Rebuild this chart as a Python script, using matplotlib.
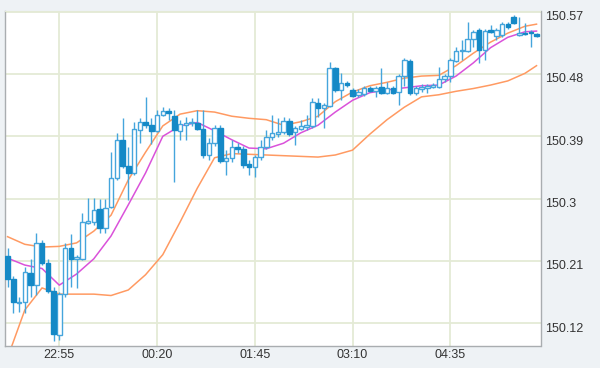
import numpy as np
import matplotlib
matplotlib.use("Agg")
import matplotlib.pyplot as plt
import matplotlib.transforms as mtransforms

# 5-minute candles (open, high, low, close)
opens = [150.217, 150.184, 150.149, 150.150, 150.192, 150.175, 150.236, 150.207, 150.167, 150.103,
         150.162, 150.229, 150.213, 150.213, 150.265, 150.266, 150.285, 150.258, 150.288, 150.330,
         150.385, 150.347, 150.337, 150.399, 150.411, 150.406, 150.398, 150.421, 150.427, 150.419,
         150.398, 150.406, 150.409, 150.409, 150.401, 150.363, 150.380, 150.402, 150.354, 150.359,
         150.375, 150.372, 150.350, 150.346, 150.360, 150.375, 150.389, 150.393, 150.396, 150.412,
         150.396, 150.401, 150.403, 150.405, 150.438, 150.431, 150.434, 150.489, 150.457, 150.467,
         150.457, 150.450, 150.451, 150.460, 150.455, 150.461, 150.453, 150.460, 150.454, 150.477,
         150.499, 150.453, 150.458, 150.460, 150.461, 150.461, 150.473, 150.477, 150.499, 150.513,
         150.513, 150.531, 150.544, 150.515, 150.544, 150.535, 150.536, 150.552, 150.562, 150.536,
         150.539, 150.541, 150.538]
highs = [150.229, 150.188, 150.158, 150.201, 150.213, 150.250, 150.240, 150.213, 150.172, 150.165,
         150.236, 150.249, 150.219, 150.279, 150.301, 150.301, 150.299, 150.299, 150.367, 150.395,
         150.416, 150.375, 150.411, 150.416, 150.447, 150.416, 150.428, 150.432, 150.431, 150.428,
         150.414, 150.418, 150.416, 150.428, 150.428, 150.388, 150.406, 150.406, 150.370, 150.385,
         150.380, 150.376, 150.356, 150.363, 150.385, 150.399, 150.421, 150.416, 150.418, 150.416,
         150.405, 150.414, 150.421, 150.445, 150.445, 150.438, 150.497, 150.490, 150.481, 150.470,
         150.460, 150.458, 150.463, 150.463, 150.463, 150.489, 150.468, 150.463, 150.480, 150.503,
         150.502, 150.463, 150.466, 150.466, 150.467, 150.490, 150.480, 150.503, 150.519, 150.529,
         150.555, 150.544, 150.546, 150.545, 150.551, 150.546, 150.555, 150.555, 150.565, 150.562,
         150.554, 150.544, 150.539]
lows = [150.172, 150.135, 150.136, 150.135, 150.158, 150.161, 150.204, 150.164, 150.094, 150.096,
        150.158, 150.172, 150.171, 150.211, 150.263, 150.262, 150.250, 150.250, 150.286, 150.327,
        150.344, 150.298, 150.334, 150.380, 150.402, 150.379, 150.396, 150.419, 150.414, 150.324,
        150.385, 150.385, 150.405, 150.399, 150.359, 150.356, 150.376, 150.351, 150.334, 150.353,
        150.366, 150.344, 150.334, 150.331, 150.356, 150.372, 150.385, 150.389, 150.393, 150.390,
        150.377, 150.399, 150.399, 150.402, 150.418, 150.402, 150.432, 150.454, 150.442, 150.461,
        150.447, 150.447, 150.448, 150.454, 150.447, 150.451, 150.451, 150.451, 150.435, 150.463,
        150.450, 150.450, 150.454, 150.453, 150.460, 150.460, 150.468, 150.468, 150.497, 150.500,
        150.512, 150.519, 150.496, 150.500, 150.539, 150.529, 150.533, 150.545, 150.552, 150.535,
        150.536, 150.519, 150.533]
closes = [150.184, 150.151, 150.151, 150.194, 150.175, 150.236, 150.207, 150.167, 150.104, 150.162,
          150.229, 150.213, 150.215, 150.266, 150.268, 150.284, 150.258, 150.286, 150.330, 150.385,
          150.347, 150.337, 150.401, 150.411, 150.406, 150.398, 150.421, 150.427, 150.424, 150.399,
          150.408, 150.409, 150.411, 150.401, 150.363, 150.380, 150.402, 150.354, 150.359, 150.375,
          150.372, 150.349, 150.346, 150.360, 150.375, 150.389, 150.395, 150.396, 150.412, 150.393,
          150.402, 150.405, 150.406, 150.440, 150.431, 150.435, 150.489, 150.457, 150.467, 150.464,
          150.448, 150.454, 150.460, 150.456, 150.460, 150.453, 150.460, 150.453, 150.477, 150.500,
          150.453, 150.460, 150.461, 150.463, 150.464, 150.473, 150.477, 150.500, 150.513, 150.515,
          150.531, 150.541, 150.515, 150.542, 150.541, 150.544, 150.552, 150.548, 150.554, 150.539,
          150.538, 150.539, 150.535]

# indicator lines, sampled every few candles
line_idx = [0, 3, 6, 9, 12, 15, 18, 21, 24, 27, 30, 33, 36, 39, 42, 45,
            48, 51, 54, 57, 60, 63, 66, 69, 72, 75, 78, 81, 84, 87, 90, 92]
upper_band = [150.245, 150.234, 150.230, 150.231, 150.236, 150.253, 150.276, 150.327,
              150.367, 150.405, 150.422, 150.427, 150.425, 150.419, 150.416, 150.414,
              150.406, 150.411, 150.419, 150.440, 150.454, 150.463, 150.468, 150.474,
              150.477, 150.478, 150.492, 150.510, 150.526, 150.539, 150.549, 150.552]
fast_ma = [150.214, 150.204, 150.199, 150.175, 150.191, 150.213, 150.246, 150.291,
           150.337, 150.390, 150.405, 150.410, 150.398, 150.385, 150.373, 150.372,
           150.380, 150.395, 150.406, 150.425, 150.442, 150.453, 150.457, 150.460,
           150.463, 150.464, 150.477, 150.496, 150.518, 150.533, 150.541, 150.542]
lower_band = [150.070, 150.139, 150.171, 150.162, 150.162, 150.162, 150.160, 150.168,
              150.190, 150.219, 150.266, 150.315, 150.359, 150.365, 150.364, 150.363,
              150.362, 150.361, 150.360, 150.363, 150.370, 150.393, 150.414, 150.432,
              150.447, 150.450, 150.455, 150.459, 150.464, 150.470, 150.481, 150.492]

time_ticks = [9, 26, 43, 60, 77]
time_labels = ["22:55", "00:20", "01:45", "03:10", "04:35"]
price_ticks = [150.12, 150.21, 150.3, 150.39, 150.48, 150.57]
price_labels = ["150.12", "150.21", "150.3", "150.39", "150.48", "150.57"]

plt.rcParams['font.family'] = ['Liberation Sans', 'DejaVu Sans']

fig = plt.figure(figsize=(6.0, 3.68), dpi=100)
fig.patch.set_facecolor("#eef2f5")
ax = fig.add_axes([5 / 600, 22.5 / 368, 535.5 / 600, 334.5 / 368])
ax.set_facecolor("white")

fill_col = "#1589c6"
edge_col = "#45a5dc"

o = np.array(opens)
h = np.array(highs)
l = np.array(lows)
c = np.array(closes)
idx = np.arange(len(o))

ax.plot(line_idx, upper_band, color="#ff9a62", lw=1.1, zorder=2)
ax.plot(line_idx, lower_band, color="#ff9a62", lw=1.1, zorder=2)
ax.plot(line_idx, fast_ma, color="#da52da", lw=1.1, zorder=2)

ax.vlines(idx, l, h, color=edge_col, lw=1.0, zorder=3)
down = c < o
body_lo = np.minimum(o, c)
body_h = np.maximum(np.abs(c - o), 0.0012)
ax.bar(idx[~down], body_h[~down], bottom=body_lo[~down], width=0.78,
       facecolor="white", edgecolor=edge_col, linewidth=1.0, zorder=4)
ax.bar(idx[down], body_h[down], bottom=body_lo[down], width=0.78,
       facecolor=fill_col, edgecolor=fill_col, linewidth=1.0, zorder=4)

ax.set_xlim(-0.44, 92.69)
ax.set_ylim(150.0878, 150.571)

ax.set_xticks(time_ticks)
ax.set_xticklabels(time_labels)
ax.set_yticks(price_ticks)
ax.set_yticklabels(price_labels)
ax.yaxis.tick_right()
ax.tick_params(axis="both", length=0, labelsize=9, labelcolor="#333333")
ax.tick_params(axis="x", pad=2.5)
ax.tick_params(axis="y", pad=3)
shift = mtransforms.ScaledTranslation(0, -4 / 100, fig.dpi_scale_trans)
for lab in ax.get_yticklabels():
    lab.set_transform(lab.get_transform() + shift)

ax.grid(True, color="#e4ead6", lw=1.3)
ax.set_axisbelow(True)
for side in ["left", "bottom", "right"]:
    ax.spines[side].set_color("#a9adb0")
    ax.spines[side].set_linewidth(1.0)
ax.spines["top"].set_color("#e4ead6")

fig.savefig("out.png", dpi=100)
